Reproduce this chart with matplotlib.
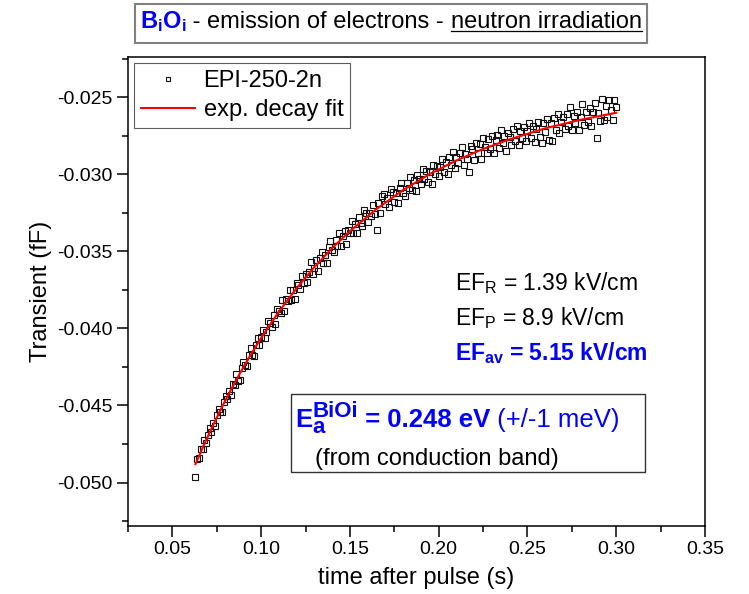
import matplotlib.pyplot as plt
from matplotlib.ticker import MultipleLocator, FormatStrFormatter
from matplotlib.transforms import IdentityTransform
from matplotlib.lines import Line2D
from matplotlib.patches import Rectangle

plt.rcParams['font.family'] = ['Liberation Sans', 'DejaVu Sans']
plt.rcParams['mathtext.fontset'] = 'custom'
plt.rcParams['mathtext.rm'] = 'Liberation Sans'
plt.rcParams['mathtext.it'] = 'Liberation Sans:italic'
plt.rcParams['mathtext.bf'] = 'Liberation Sans:bold'
plt.rcParams['axes.unicode_minus'] = False

# measured transient: time in ms, capacitance in 1e-3 fF
time_ms = [
    63, 64, 65, 66, 67, 68, 69, 70, 71, 72,
    73, 74, 75, 76, 77, 78, 79, 80, 81, 82,
    83, 84, 85, 86, 87, 88, 89, 90, 91, 92,
    93, 94, 95, 96, 97, 98, 99, 100, 101, 102,
    103, 104, 105, 106, 107, 108, 109, 110, 111, 112,
    113, 114, 115, 116, 117, 118, 119, 120, 121, 122,
    123, 124, 125, 126, 127, 128, 129, 130, 131, 132,
    133, 134, 135, 136, 137, 138, 139, 140, 141, 142,
    143, 144, 145, 146, 147, 148, 149, 150, 151, 152,
    153, 154, 155, 156, 157, 158, 159, 160, 161, 162,
    163, 164, 165, 166, 167, 168, 169, 170, 171, 172,
    173, 174, 175, 176, 177, 178, 179, 180, 181, 182,
    183, 184, 185, 186, 187, 188, 189, 190, 191, 192,
    193, 194, 195, 196, 197, 198, 199, 200, 201, 202,
    203, 204, 205, 206, 207, 208, 209, 210, 211, 212,
    213, 214, 215, 216, 217, 218, 219, 220, 221, 222,
    223, 224, 225, 226, 227, 228, 229, 230, 231, 232,
    233, 234, 235, 236, 237, 238, 239, 240, 241, 242,
    243, 244, 245, 246, 247, 248, 249, 250, 251, 252,
    253, 254, 255, 256, 257, 258, 259, 260, 261, 262,
    263, 264, 265, 266, 267, 268, 269, 270, 271, 272,
    273, 274, 275, 276, 277, 278, 279, 280, 281, 282,
    283, 284, 285, 286, 287, 288, 289, 290, 291, 292,
    293, 294, 295, 296, 297, 298, 299, 300,
]
transient_mfF = [
    -49.63, -48.46, -48.44, -47.82, -47.81, -47.25, -47.44, -46.93, -46.43, -46.73,
    -46.14, -46.34, -45.60, -45.21, -45.42, -45.43, -44.80, -44.37, -44.59, -44.07,
    -44.30, -43.58, -43.66, -42.94, -43.38, -43.32, -42.56, -42.20, -42.35, -42.45,
    -41.70, -41.30, -41.75, -41.81, -41.07, -40.63, -41.09, -40.55, -40.12, -40.64,
    -40.25, -39.52, -39.65, -39.93, -39.16, -39.74, -38.72, -38.85, -38.99, -38.13,
    -38.86, -38.10, -38.24, -37.48, -38.13, -37.53, -38.08, -37.08, -37.18, -37.43,
    -36.57, -37.03, -36.44, -37.00, -36.31, -35.72, -36.44, -36.11, -35.53, -36.25,
    -35.45, -35.07, -35.74, -35.21, -35.74, -34.72, -34.30, -34.93, -35.06, -34.29,
    -34.66, -33.84, -34.68, -34.02, -33.66, -34.55, -33.59, -33.78, -33.03, -33.78,
    -33.24, -33.79, -32.79, -33.14, -33.34, -32.29, -32.54, -33.09, -32.50, -32.70,
    -31.98, -32.59, -33.60, -31.86, -32.52, -31.43, -31.25, -31.96, -31.52, -32.14,
    -30.98, -31.14, -31.81, -31.23, -31.85, -30.92, -30.59, -31.21, -31.39, -30.56,
    -30.91, -30.18, -31.01, -30.39, -31.07, -30.05, -30.33, -30.61, -29.64, -30.32,
    -29.78, -30.51, -29.84, -30.63, -29.37, -30.00, -29.44, -30.08, -29.52, -29.00,
    -29.85, -29.19, -29.99, -28.88, -29.37, -28.56, -29.56, -28.90, -29.30, -28.59,
    -28.26, -29.40, -28.70, -29.00, -29.85, -28.15, -28.35, -29.05, -27.95, -28.65,
    -28.06, -29.01, -27.62, -28.22, -28.62, -27.72, -28.38, -27.49, -28.59, -27.80,
    -27.47, -28.27, -27.13, -27.99, -27.50, -28.46, -27.32, -27.58, -28.09, -27.05,
    -27.82, -26.88, -28.09, -27.21, -27.62, -26.93, -27.85, -27.16, -26.67, -27.64,
    -26.85, -27.92, -27.09, -26.60, -27.57, -27.99, -26.70, -27.27, -26.39, -27.76,
    -26.69, -27.86, -26.38, -27.15, -26.12, -27.34, -26.61, -26.28, -27.05, -26.07,
    -26.85, -25.65, -27.10, -26.22, -26.64, -25.97, -27.14, -26.26, -25.45, -26.81,
    -25.94, -26.61, -25.69, -26.87, -25.99, -25.35, -27.65, -26.02, -26.55, -25.10,
    -26.46, -25.59, -26.27, -25.20, -25.83, -26.50, -25.15, -25.61,
]

# exponential decay fit
fit_time_ms = [63, 68, 73, 78, 83, 88, 93, 100, 110, 120, 130, 140,
               150, 165, 180, 195, 210, 225, 240, 260, 280, 300]
fit_mfF = [-48.81, -47.50, -46.26, -45.08, -43.98, -42.92, -41.93, -40.61,
           -38.91, -37.39, -36.02, -34.79, -33.69, -32.25, -31.02, -29.98,
           -29.10, -28.36, -27.73, -27.02, -26.46, -26.01]

t_s = [t / 1000 for t in time_ms]
c_fF = [v / 1000 for v in transient_mfF]
fit_t = [t / 1000 for t in fit_time_ms]
fit_c = [v / 1000 for v in fit_mfF]

BLUE = '#0000ff'
W, H = 749, 594

fig = plt.figure(figsize=(W / 100, H / 100), dpi=100)
ax = fig.add_axes([128 / W, 1 - 526 / H, 577 / W, 469 / H])

ax.plot(t_s, c_fF, ls='none', marker='s', ms=4.7, mfc='none', mec='#111111',
        mew=0.8, label='EPI-250-2n', zorder=2)
ax.plot(fit_t, fit_c, color='red', lw=1.5, label='exp. decay fit', zorder=3)

ax.set_xlim(0.025, 0.35)
ax.set_ylim(-0.05282, -0.02239)
ax.xaxis.set_major_locator(MultipleLocator(0.05))
ax.xaxis.set_minor_locator(MultipleLocator(0.025))
ax.yaxis.set_major_locator(MultipleLocator(0.005))
ax.yaxis.set_minor_locator(MultipleLocator(0.0025))
ax.xaxis.set_major_formatter(FormatStrFormatter('%.2f'))
ax.yaxis.set_major_formatter(FormatStrFormatter('%.3f'))
ax.tick_params(which='both', direction='out', width=1.1, top=False, right=False,
               labelsize=14, pad=3)
ax.tick_params(which='major', length=8)
ax.tick_params(which='minor', length=4.5)
for sp in ax.spines.values():
    sp.set_linewidth(1.1)

ax.set_xlabel('time after pulse (s)', fontsize=17, labelpad=6)
ax.set_ylabel('Transient (fF)', fontsize=17, labelpad=4)

leg = ax.legend(loc='upper left', fontsize=17, frameon=True, fancybox=False,
                edgecolor='#333333', borderaxespad=0.25, borderpad=0.3,
                labelspacing=0.3, handlelength=2.3, handletextpad=0.35,
                markerscale=0.75, numpoints=1)
leg.get_frame().set_linewidth(0.8)

ax.text(0.567, 0.518, r'EF$_\mathrm{R}$ = 1.39 kV/cm', transform=ax.transAxes,
        fontsize=16.5, va='center')
ax.text(0.567, 0.4435, r'EF$_\mathrm{P}$ = 8.9 kV/cm', transform=ax.transAxes,
        fontsize=16.5, va='center')
ax.text(0.567, 0.369, r'EF$_\mathbf{av}$ = 5.15 kV/cm', transform=ax.transAxes,
        fontsize=16.5, va='center', color=BLUE, fontweight='bold')

fig.canvas.draw()
renderer = fig.canvas.get_renderer()


def text_run(parts, x, y, anchor=0):
    # pieces of text laid one after another on a shared baseline (pixels)
    pieces = []
    for s, style, dy, advance in parts:
        t = fig.text(0, y + dy, s, transform=IdentityTransform(), ha='left',
                     va='baseline', **style)
        pieces.append((t, t.get_window_extent(renderer).width, advance))
    offsets = []
    cur = 0
    group = 0
    for t, w, adv in pieces:
        offsets.append(cur)
        group = max(group, w)
        if adv:
            cur += group
            group = 0
    x0 = x - offsets[anchor]
    for (t, w, adv), off in zip(pieces, offsets):
        t.set_x(x0 + off)
    return [p[0] for p in pieces], x0, x0 + cur


# title in a grey box
title_base = H - 28.3
bold_blue = dict(fontsize=17, color=BLUE, fontweight='bold')
plain = dict(fontsize=17, color='black')
title_parts = [
    (r'$\mathbf{B_iO_i}$', bold_blue, 0, True),
    (' - emission of electrons - ', plain, 0, True),
    ('neutron irradiation', plain, 0, True),
]
texts, tx0, tx1 = text_run(title_parts, 186.5, title_base, anchor=1)
nb = texts[2].get_window_extent(renderer)
fig.add_artist(Line2D([nb.x0, nb.x1], [title_base - 3, title_base - 3],
                      transform=IdentityTransform(), color='black', lw=0.9))
fig.add_artist(Rectangle((tx0 - 5, H - 42.7), tx1 - tx0 + 10, 38.7,
                         transform=IdentityTransform(), fill=False,
                         edgecolor='#808080', lw=1.5))

# activation energy box
ea_bold = dict(fontsize=18.5, color=BLUE, fontweight='bold')
ea_script = dict(fontsize=16, color=BLUE, fontweight='bold')
ea_plain = dict(fontsize=18.5, color=BLUE)
ea_parts = [
    ('E', ea_bold, 0, True),
    ('BiOi', ea_script, 10, False),
    ('a', ea_script, -6, True),
    (' = 0.248 eV', ea_bold, 0, True),
    (' (+/-1 meV)', ea_plain, 0, True),
]
text_run(ea_parts, 295, H - 427)
fig.text(315, H - 465, '(from conduction band)', transform=IdentityTransform(),
         fontsize=17, ha='left', va='baseline')
fig.add_artist(Rectangle((291, H - 472), 354, 78, transform=IdentityTransform(),
                         fill=False, edgecolor='#333333', lw=1.0))

fig.savefig('out.png', dpi=100)
